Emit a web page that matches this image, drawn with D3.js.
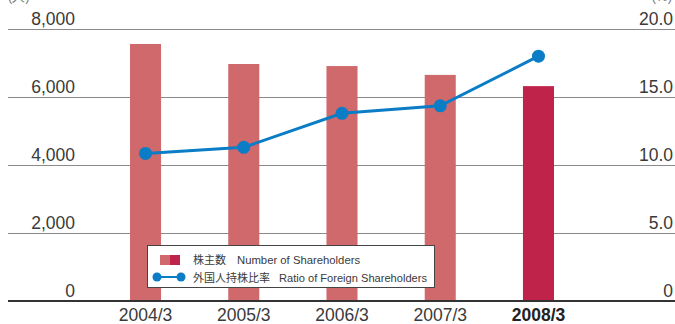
<!DOCTYPE html>
<html>
<head>
<meta charset="utf-8">
<script src="https://cdn.jsdelivr.net/npm/d3@7/dist/d3.min.js"></script>
<style>
  html, body { margin: 0; padding: 0; background: #fff; }
  svg { display: block; }
  text { font-family: "Liberation Sans", Arial, sans-serif; }
</style>
</head>
<body>
<svg id="chart" width="675" height="324"></svg>
<script>
// Fiscal years (March year-end)
const years = ["2004/3", "2005/3", "2006/3", "2007/3", "2008/3"];
// Number of shareholders
const shareholders = [7560, 6970, 6910, 6650, 6320];
// Ratio of foreign shareholders (%)
const foreignRatio = [10.85, 11.3, 13.8, 14.35, 18.0];
// Axis ticks
const leftTicks = [0, 2000, 4000, 6000, 8000];
const rightTicks = [0, 5, 10, 15, 20];
const highlightYear = "2008/3";

const svg = d3.select("#chart");
const W = 675;
const yTop = 29, yBase = 301;

const x = d3.scaleBand().domain(years).range([96.4, 587.6])
  .paddingInner(0.684).paddingOuter(0.342);
const yL = d3.scaleLinear().domain([0, 8000]).range([yBase, yTop]);
const yR = d3.scaleLinear().domain([0, 20]).range([yBase, yTop]);

const colLight = "#cf696c";
const colDark = "#c0234a";
const colLine = "#0a7dc6";
const textCol = "#3a3a3a";

// unit captions at the very top edge
svg.append("text").attr("x", 8).attr("y", 1).attr("font-size", 13)
  .attr("fill", "#777").text("(人)");
svg.append("text").attr("x", 672).attr("y", 1).attr("font-size", 13)
  .attr("text-anchor", "end").attr("fill", "#777").text("(%)");

// horizontal grid lines
svg.append("g").selectAll("line").data(leftTicks.filter(d => d > 0)).join("line")
  .attr("x1", 8).attr("x2", W)
  .attr("y1", d => Math.round(yL(d)) + 0.5).attr("y2", d => Math.round(yL(d)) + 0.5)
  .attr("stroke", "#8a8a8a").attr("stroke-width", 1.2);

// left axis labels
const fmt = d3.format(",");
svg.append("g").selectAll("text").data(leftTicks).join("text")
  .attr("x", 75).attr("y", d => yL(d) - 4)
  .attr("text-anchor", "end").attr("font-size", 17.5).attr("fill", textCol)
  .text(d => fmt(d));

// right axis labels
svg.append("g").selectAll("text").data(rightTicks).join("text")
  .attr("x", 673).attr("y", d => yR(d) - 4)
  .attr("text-anchor", "end").attr("font-size", 17.5).attr("fill", textCol)
  .text(d => d === 0 ? "0" : d3.format(".1f")(d));

// bars
svg.append("g").selectAll("rect").data(years).join("rect")
  .attr("x", d => x(d))
  .attr("width", x.bandwidth())
  .attr("y", (d, i) => yL(shareholders[i]))
  .attr("height", (d, i) => yL(0) - yL(shareholders[i]))
  .attr("fill", d => d === highlightYear ? colDark : colLight);

// baseline
svg.append("line").attr("x1", 8).attr("x2", W)
  .attr("y1", yBase).attr("y2", yBase)
  .attr("stroke", "#333").attr("stroke-width", 2);

// x labels
svg.append("g").selectAll("text").data(years).join("text")
  .attr("x", d => x(d) + x.bandwidth() / 2).attr("y", 321)
  .attr("text-anchor", "middle").attr("font-size", 17.5)
  .attr("font-weight", d => d === highlightYear ? "bold" : "normal")
  .attr("fill", d => d === highlightYear ? "#222" : textCol)
  .text(d => d);

// foreign ratio line
const cx = d => x(d) + x.bandwidth() / 2;
const line = d3.line().x((d, i) => cx(years[i])).y(d => yR(d));
svg.append("path").datum(foreignRatio)
  .attr("d", line).attr("fill", "none")
  .attr("stroke", colLine).attr("stroke-width", 3);
svg.append("g").selectAll("circle").data(foreignRatio).join("circle")
  .attr("cx", (d, i) => cx(years[i])).attr("cy", d => yR(d))
  .attr("r", 6.5).attr("fill", colLine);

// legend
const lg = svg.append("g");
lg.append("rect").attr("x", 147.5).attr("y", 245.5).attr("width", 287).attr("height", 42)
  .attr("fill", "#fff").attr("stroke", "#444").attr("stroke-width", 1);
lg.append("rect").attr("x", 160).attr("y", 255).attr("width", 10).attr("height", 10).attr("fill", colLight);
lg.append("rect").attr("x", 170).attr("y", 255).attr("width", 10).attr("height", 10).attr("fill", colDark);
lg.append("line").attr("x1", 157).attr("x2", 181).attr("y1", 277).attr("y2", 277)
  .attr("stroke", colLine).attr("stroke-width", 2);
lg.append("circle").attr("cx", 157).attr("cy", 277).attr("r", 4.5).attr("fill", colLine);
lg.append("circle").attr("cx", 181).attr("cy", 277).attr("r", 4.5).attr("fill", colLine);

lg.append("text").attr("x", 193).attr("y", 264).attr("font-size", 11).attr("fill", textCol)
  .style("font-family", "'Noto Sans CJK JP', sans-serif").text("株主数");
lg.append("text").attr("x", 237).attr("y", 264).attr("font-size", 11.3).attr("fill", textCol)
  .text("Number of Shareholders");
lg.append("text").attr("x", 193).attr("y", 281.5).attr("font-size", 11).attr("fill", textCol)
  .style("font-family", "'Noto Sans CJK JP', sans-serif").text("外国人持株比率");
lg.append("text").attr("x", 279).attr("y", 281.5).attr("font-size", 11.1).attr("fill", textCol)
  .text("Ratio of Foreign Shareholders");
</script>
</body>
</html>
